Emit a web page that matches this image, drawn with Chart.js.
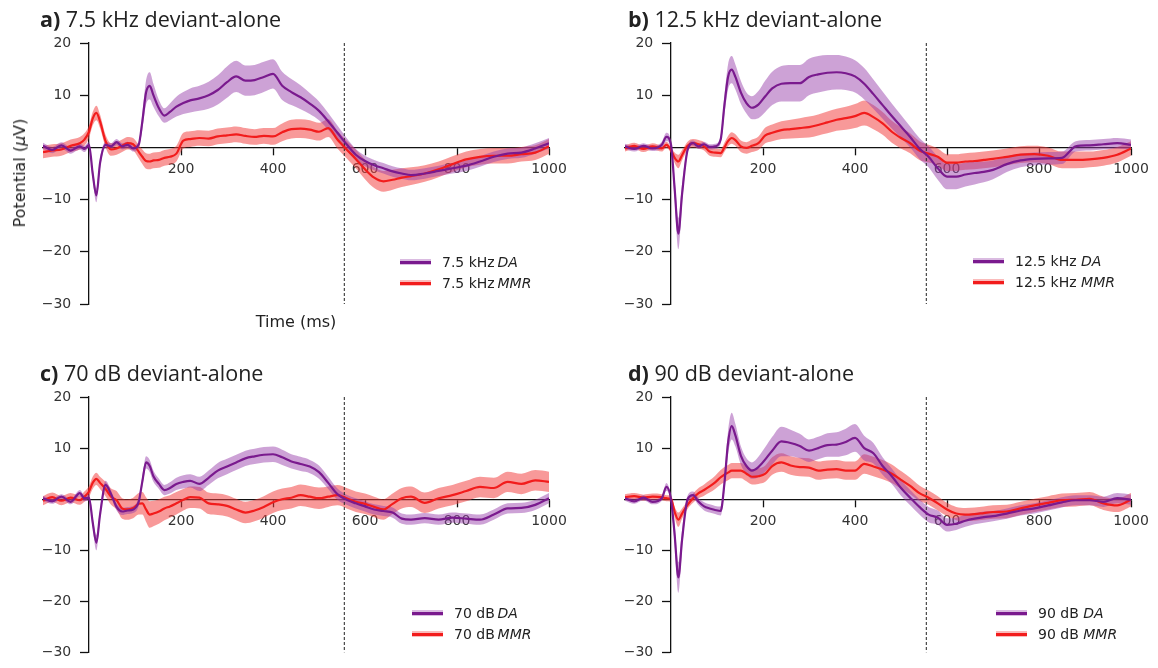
<!DOCTYPE html>
<html><head><meta charset="utf-8">
<script src="https://cdn.jsdelivr.net/npm/chart.js@4.4.1/dist/chart.umd.min.js"></script>
<style>
body{margin:0;background:#fff;}
#wrap{position:relative;width:1158px;height:668px;overflow:hidden;font-family:"DejaVu Sans",sans-serif;color:#222;}
canvas{position:absolute;}
.title{position:absolute;font-family:"Open Sans",sans-serif;font-size:21.5px;white-space:nowrap;line-height:24px;color:#222;}
.title b{font-weight:700;}
.lab{position:absolute;font-size:16px;white-space:nowrap;line-height:18px;color:#222;}
.legline{position:absolute;height:2.5px;}
.legband{position:absolute;height:6px;}
.legtxt{position:absolute;font-size:14px;white-space:nowrap;line-height:16px;color:#222;}
</style>
</head><body>
<div id="wrap"></div>
<script>
// ---- data (time in ms, potential in µV) ----
const time = [-100,-80,-60,-40,-20,-10,0,8,16,24,
  36,48,60,72,84,96,108,116,124,132,
  140,152,164,176,190,205,220,240,260,280,
  300,320,340,360,380,400,420,440,460,480,
  500,520,540,560,580,600,620,640,660,680,
  700,730,760,790,820,850,880,910,940,970,
  1000];
const xTickValues = [200,400,600,800,1000];
const yTickValues = [-30,-20,-10,10,20];
const stimulusOffset = 555;

const daA = [0.3,-0.5,0.4,-0.6,0.2,-0.3,0.5,-5,-9.2,-3,
  0.5,0.2,1.0,0.2,0.5,-0.2,0.5,5,10.5,11.8,
  10,7.5,6.1,6.8,7.8,8.5,9.0,9.4,10.0,11.0,
  12.5,13.6,12.8,12.9,13.5,14.1,11.8,10.6,9.6,8.4,
  7.0,5.0,2.8,0.6,-1.4,-2.6,-3.4,-4.0,-4.6,-5.0,
  -5.3,-5.0,-4.5,-4.0,-3.5,-2.7,-1.8,-1.2,-1.0,-0.2,
  0.8];
const daA_sem = [0.6,0.6,0.6,0.6,0.6,0.6,0.6,1.0,1.3,1.0,
  0.6,0.6,0.6,0.6,0.6,0.6,0.6,1.5,2.3,2.6,
  2.2,1.6,1.4,1.6,1.9,2.1,2.3,2.4,2.6,2.8,
  3.0,3.0,2.9,2.9,2.9,2.8,2.7,2.5,2.3,2.0,
  1.8,1.6,1.4,1.2,1.1,1.0,1.0,1.0,1.0,1.0,
  1.0,1.0,1.0,1.0,1.0,1.0,1.0,1.0,1.0,1.0,
  1.0];
const mmrA = [-0.9,-0.6,-0.4,0.3,0.8,1.5,3.0,5.5,6.6,5.0,
  1.2,-0.4,-0.2,0.3,0.8,0.6,-0.8,-1.8,-2.6,-2.7,
  -2.5,-2.4,-2.0,-1.8,-1.2,1.3,1.6,1.8,1.7,2.1,
  2.3,2.5,2.2,2.0,2.2,2.1,2.9,3.5,3.6,3.4,
  3.0,3.7,1.5,-0.4,-2.2,-4.2,-5.8,-6.5,-6.2,-5.8,
  -5.5,-5.0,-4.2,-3.2,-2.3,-1.8,-1.6,-1.6,-1.3,-1.0,
  0.2];
const mmrA_sem = [1.2,1.2,1.2,1.2,1.2,1.2,1.2,1.3,1.4,1.3,
  1.2,1.2,1.2,1.2,1.2,1.2,1.3,1.4,1.5,1.5,
  1.5,1.5,1.5,1.5,1.5,1.5,1.5,1.5,1.5,1.5,
  1.5,1.5,1.5,1.5,1.5,1.6,1.7,1.8,1.8,1.8,
  1.7,1.7,1.7,1.7,1.8,1.9,2.0,2.0,1.9,1.8,
  1.7,1.6,1.5,1.5,1.5,1.5,1.5,1.5,1.4,1.4,
  1.4];

const daB = [0.2,-0.3,0.3,-0.2,0.5,2.0,0.5,-8,-16.5,-9,
  -0.5,0.8,0.2,0.6,0.1,0.2,1.5,8,13.5,14.9,
  13.5,10.5,8.5,7.6,8.2,9.8,11.3,12.2,12.3,12.3,
  13.5,14.0,14.3,14.4,14.2,13.6,12.2,10.2,8.1,6.0,
  4.0,2.0,-0.2,-1.8,-4.0,-5.6,-5.6,-5.2,-4.9,-4.7,
  -4.3,-3.2,-2.5,-2.2,-2.1,-2.0,0.2,0.4,0.6,0.8,
  0.5];
const daB_sem = [0.5,0.5,0.5,0.5,0.6,0.8,0.6,2.0,3.0,2.0,
  0.6,0.5,0.5,0.5,0.5,0.5,0.8,1.8,2.4,2.6,
  2.4,2.2,2.0,2.2,2.6,3.0,3.2,3.4,3.5,3.5,
  3.5,3.5,3.4,3.3,3.2,3.1,3.0,2.8,2.6,2.4,
  2.2,2.0,2.0,2.0,2.2,2.4,2.4,2.3,2.2,2.0,
  1.8,1.5,1.3,1.2,1.2,1.2,1.0,1.0,1.0,1.0,
  1.0];
const mmrB = [-0.2,0.3,-0.3,0.2,-0.2,0.5,-0.5,-2,-2.7,-1.5,
  0.3,0.8,0.6,0.2,-0.8,-1.0,-1.1,0,1.2,1.8,
  1.4,0.2,-0.1,0.3,0.8,2.3,2.8,3.3,3.5,3.7,
  3.9,4.3,4.8,5.3,5.6,6.0,6.6,5.8,4.6,3.0,
  1.8,0.8,-0.6,-1.2,-1.8,-2.9,-2.9,-2.7,-2.6,-2.4,
  -2.2,-1.8,-1.4,-1.3,-1.6,-2.4,-2.4,-2.3,-2.0,-1.4,
  -0.2];
const mmrB_sem = [0.6,0.6,0.6,0.6,0.6,0.6,0.6,1.0,1.3,1.0,
  0.8,0.8,0.8,0.8,0.8,0.8,0.8,0.9,1.0,1.1,
  1.1,1.1,1.1,1.2,1.3,1.5,1.6,1.7,1.8,1.9,
  2.0,2.0,2.1,2.1,2.2,2.3,2.4,2.3,2.2,2.1,
  2.0,1.9,1.8,1.7,1.6,1.6,1.6,1.6,1.6,1.6,
  1.6,1.6,1.6,1.6,1.6,1.6,1.6,1.5,1.5,1.5,
  1.4];

const daC = [0.2,-0.4,0.5,-0.5,1.2,0.2,0.3,-4.5,-8.5,-3,
  2.8,1.0,-1.5,-2.4,-2.2,-2.0,-0.5,3.5,7.2,6.5,
  4.5,3.0,1.8,2.2,3.0,3.4,3.6,3.0,4.2,5.6,
  6.4,7.2,8.0,8.4,8.7,8.8,8.2,7.4,6.9,6.4,
  5.3,3.2,1.0,-0.1,-0.8,-1.4,-2.0,-2.3,-2.6,-3.8,
  -4.0,-3.7,-4.0,-3.6,-3.8,-4.0,-3.0,-1.8,-1.7,-1.1,
  0.2];
const daC_sem = [0.5,0.5,0.5,0.5,0.6,0.6,0.6,1.0,1.5,1.0,
  0.8,0.7,0.7,0.7,0.7,0.7,0.8,1.0,1.2,1.2,
  1.1,1.0,1.0,1.1,1.2,1.3,1.3,1.4,1.4,1.5,
  1.5,1.5,1.5,1.5,1.5,1.5,1.5,1.4,1.4,1.3,
  1.3,1.2,1.1,1.0,1.0,1.0,1.0,1.0,1.0,1.0,
  1.0,1.0,1.0,1.0,1.0,1.0,1.0,1.0,1.0,1.0,
  1.0];
const mmrC = [-0.3,0.4,-0.3,0.3,-0.2,0.5,1.5,3.2,4.0,3.2,
  2.0,0.5,-0.2,-1.8,-2.0,-1.7,-0.9,-0.8,-2.0,-3.0,
  -2.8,-2.4,-1.8,-1.4,-0.8,-0.1,0.4,0.3,-0.8,-1.0,
  -1.3,-2.0,-2.6,-2.2,-1.5,-0.6,0.0,0.3,0.8,0.5,
  0.2,0.5,0.8,0.2,-0.5,-0.9,-1.5,-2.0,-0.9,0.2,
  0.5,-0.7,0.2,0.8,1.6,2.4,2.2,3.4,3.0,3.7,
  3.4];
const mmrC_sem = [0.9,0.9,0.9,0.9,0.9,1.0,1.1,1.2,1.2,1.2,
  1.4,1.6,1.8,2.0,2.0,2.0,2.1,2.2,2.4,2.6,
  2.5,2.4,2.3,2.2,2.2,2.1,2.1,2.1,2.1,2.1,
  2.1,2.1,2.1,2.1,2.1,2.1,2.1,2.1,2.1,2.1,
  2.1,2.0,2.0,2.0,2.0,2.0,2.0,2.0,2.0,2.0,
  2.0,2.0,2.0,2.0,2.0,2.0,2.0,2.0,2.0,2.0,
  2.0];

const daD = [0.2,-0.4,0.3,-0.5,0.2,2.4,0,-7,-15.3,-8,
  0,0.8,-0.5,-1.4,-1.8,-2.1,-2.3,3,11,14.3,
  12.5,8.5,6.5,5.6,6.3,7.8,9.5,11.3,11.0,10.4,
  9.5,10.0,10.6,10.7,11.2,12.0,10.0,9.0,6.5,4.5,
  2.2,0.3,-1.5,-3.0,-3.6,-5.0,-4.8,-4.2,-3.8,-3.5,
  -3.3,-2.8,-2.2,-1.8,-1.2,-0.6,-0.2,-0.2,-0.5,0.2,
  -0.1];
const daD_sem = [0.5,0.5,0.5,0.5,0.5,0.8,0.6,2.0,3.0,2.0,
  0.7,0.7,0.7,0.8,0.8,0.8,0.9,1.5,2.3,2.6,
  2.2,1.8,1.5,1.6,2.0,2.4,2.7,2.9,2.6,2.4,
  2.2,2.2,2.3,2.4,2.6,2.7,2.4,2.0,1.7,1.5,
  1.5,1.5,1.5,1.5,1.4,1.3,1.2,1.2,1.1,1.1,
  1.0,1.0,1.0,1.0,1.0,1.0,1.0,1.0,1.0,1.0,
  1.0];
const mmrD = [0.4,0.6,0.3,0.5,0.4,0.2,0.1,-2.5,-4.0,-2.8,
  -1.1,0.2,1.2,1.8,2.5,3.3,4.3,4.8,5.2,5.6,
  5.6,5.6,5.0,4.4,4.5,5.0,6.5,7.2,6.6,6.3,
  6.2,5.6,5.8,5.9,5.6,5.6,6.9,6.4,5.8,5.0,
  3.8,2.6,1.2,0.3,-0.8,-2.0,-2.8,-3.0,-2.9,-2.7,
  -2.5,-2.4,-1.8,-1.2,-0.7,-0.2,-0.1,0.1,-0.8,-1.2,
  -0.1];
const mmrD_sem = [0.6,0.6,0.6,0.6,0.6,0.6,0.6,1.0,1.4,1.0,
  0.8,0.9,1.0,1.1,1.2,1.3,1.4,1.5,1.5,1.5,
  1.5,1.5,1.5,1.5,1.5,1.6,1.7,1.8,1.8,1.8,
  1.8,1.8,1.8,1.8,1.8,1.8,1.9,1.9,1.9,1.8,
  1.7,1.6,1.5,1.4,1.4,1.3,1.3,1.3,1.3,1.3,
  1.3,1.3,1.3,1.3,1.3,1.3,1.3,1.3,1.3,1.3,
  1.3];

const panelLetters = ['a)','b)','c)','d)'];
const panelTitles = ['7.5 kHz deviant-alone','12.5 kHz deviant-alone','70 dB deviant-alone','90 dB deviant-alone'];
const conditionNames = ['7.5 kHz','12.5 kHz','70 dB','90 dB'];

// ---- styles / layout ----
const DA_COLOR = '#7a1a8e';
const DA_BAND = 'rgba(150,60,170,0.48)';
const MMR_COLOR = '#f21c1c';
const MMR_BAND = 'rgba(242,60,60,0.52)';

const panels = [
  {left:0,   top:0,   pad:{left:43,top:43,right:30,bottom:30}, da:daA, daS:daA_sem, mmr:mmrA, mmrS:mmrA_sem, title:[40,7],   leg:[400,262], sep:'\u2009'},
  {left:579, top:0,   pad:{left:46,top:43,right:27,bottom:30}, da:daB, daS:daB_sem, mmr:mmrB, mmrS:mmrB_sem, title:[628,7],  leg:[973,261], sep:' '},
  {left:0,   top:334, pad:{left:43,top:63,right:30,bottom:12}, da:daC, daS:daC_sem, mmr:mmrC, mmrS:mmrC_sem, title:[40,361], leg:[412,613], sep:'\u2009'},
  {left:579, top:334, pad:{left:46,top:63,right:27,bottom:12}, da:daD, daS:daD_sem, mmr:mmrD, mmrS:mmrD_sem, title:[628,361], leg:[996,613], sep:' '}
];

Chart.defaults.font.family = '"DejaVu Sans", sans-serif';
const wrap = document.getElementById('wrap');

function pts(vals){ return time.map((t,i)=>({x:t,y:vals[i]})); }
function band(vals, sem, sign){ return time.map((t,i)=>({x:t,y:vals[i]+sign*sem[i]})); }

panels.forEach((p, k) => {
  const cv = document.createElement('canvas');
  cv.width = 579; cv.height = 334;
  cv.style.left = p.left + 'px'; cv.style.top = p.top + 'px';
  cv.style.width = '579px'; cv.style.height = '334px';
  wrap.appendChild(cv);
  const lineBase = {pointRadius:0, fill:false, cubicInterpolationMode:'monotone', borderJoinStyle:'round'};
  const bandBase = {pointRadius:0, borderWidth:0, borderColor:'rgba(0,0,0,0)', cubicInterpolationMode:'monotone'};
  new Chart(cv, {
    type:'line',
    data:{datasets:[
      Object.assign({data:pts(p.da), borderColor:DA_COLOR, borderWidth:2.2}, lineBase),
      Object.assign({data:pts(p.mmr), borderColor:MMR_COLOR, borderWidth:2.2}, lineBase),
      {data:[{x:stimulusOffset,y:20},{x:stimulusOffset,y:-30}], borderColor:'#222', borderWidth:1, borderDash:[3,2], pointRadius:0, fill:false},
      Object.assign({data:band(p.da,p.daS,1), fill:'+1', backgroundColor:DA_BAND}, bandBase),
      Object.assign({data:band(p.da,p.daS,-1), fill:false}, bandBase),
      Object.assign({data:band(p.mmr,p.mmrS,1), fill:'+1', backgroundColor:MMR_BAND}, bandBase),
      Object.assign({data:band(p.mmr,p.mmrS,-1), fill:false}, bandBase)
    ]},
    options:{
      responsive:false, animation:false, events:[],
      layout:{padding:p.pad},
      plugins:{legend:{display:false}, tooltip:{enabled:false}, title:{display:false}},
      scales:{
        x:{type:'linear', min:-100, max:1000, position:{y:0},
           afterBuildTicks:s=>{ s.ticks = xTickValues.map(v=>({value:v})); },
           grid:{drawOnChartArea:false, drawTicks:true, tickLength:7, tickColor:'#111', tickWidth:1.3},
           border:{display:true, color:'#111', width:1.3},
           ticks:{font:{size:14}, color:'#333', padding:7, maxRotation:0, autoSkip:false,
                  callback:v=>String(v)}},
        y:{type:'linear', min:-30, max:20, position:{x:0},
           afterBuildTicks:s=>{ s.ticks = yTickValues.map(v=>({value:v})); },
           grid:{drawOnChartArea:false, drawTicks:true, tickLength:8, tickColor:'#111', tickWidth:1.3},
           border:{display:true, color:'#111', width:1.3},
           ticks:{font:{size:14}, color:'#333', padding:7, autoSkip:false,
                  // axis sits inside the plot (at t = 0): keep labels clear of the tick marks
                  callback:v=>String(v).replace('-','\u2212') + '    '}}
      }
    }
  });

  // title
  const t = document.createElement('div');
  t.className = 'title';
  t.style.left = p.title[0] + 'px'; t.style.top = p.title[1] + 'px';
  t.innerHTML = '<b>' + panelLetters[k] + '</b> ' + panelTitles[k];
  wrap.appendChild(t);

  // legend
  const entries = [[DA_COLOR, 'rgba(150,60,170,0.35)', 'DA'], [MMR_COLOR, 'rgba(242,60,60,0.35)', 'MMR']];
  entries.forEach((e, r) => {
    const x = p.leg[0], y = p.leg[1] + r*21;
    const b = document.createElement('div');
    b.className = 'legband'; b.style.left = x+'px'; b.style.top = (y-3)+'px'; b.style.width='31px'; b.style.background=e[1];
    wrap.appendChild(b);
    const l = document.createElement('div');
    l.className = 'legline'; l.style.left = x+'px'; l.style.top = (y-1)+'px'; l.style.width='31px'; l.style.background=e[0];
    wrap.appendChild(l);
    const tx = document.createElement('div');
    tx.className = 'legtxt'; tx.style.left = (x+42)+'px'; tx.style.top = (y-8)+'px';
    tx.innerHTML = conditionNames[k] + p.sep + '<i>' + e[2] + '</i>';
    wrap.appendChild(tx);
  });
});

// axis labels (panel a only)
const yl = document.createElement('div');
yl.className = 'lab';
yl.style.left = '20px'; yl.style.top = '173px';
yl.style.transform = 'translate(-50%,-50%) rotate(-90deg)';
yl.innerHTML = 'Potential (<i>\u00b5</i>V)';
wrap.appendChild(yl);
const xl = document.createElement('div');
xl.className = 'lab';
xl.style.left = '296px'; xl.style.top = '322px';
xl.style.transform = 'translate(-50%,-50%)';
xl.textContent = 'Time (ms)';
wrap.appendChild(xl);
</script>
</body></html>
